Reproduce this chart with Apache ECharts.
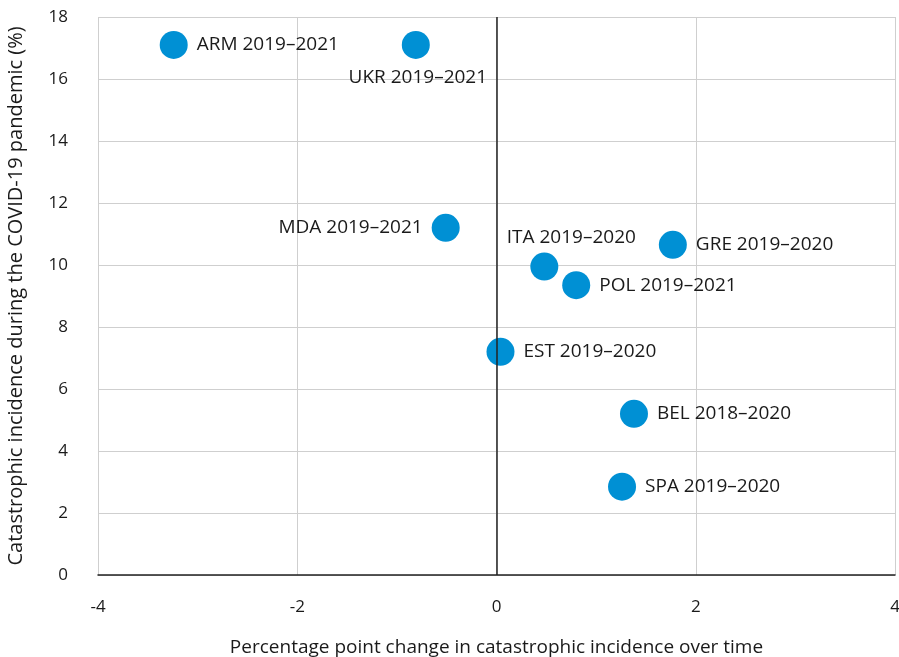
<!DOCTYPE html>
<html>
<head>
<meta charset="utf-8">
<script src="https://cdn.jsdelivr.net/npm/echarts@6/dist/echarts.min.js"></script>
<style>
  html, body { margin: 0; padding: 0; background: #fff; }
  #chart { width: 899px; height: 657px; }
</style>
</head>
<body>
<div id="chart"></div>
<script>
// values
const names = ['ARM 2019–2021', 'UKR 2019–2021', 'MDA 2019–2021', 'ITA 2019–2020', 'GRE 2019–2020',
  'POL 2019–2021', 'EST 2019–2020', 'BEL 2018–2020', 'SPA 2019–2020']
const changes = [-3.24, -0.81, -0.51, 0.48, 1.77, 0.80, 0.04, 1.38, 1.26]
const incidence = [17.1, 17.1, 11.2, 9.95, 10.65, 9.35, 7.2, 5.2, 2.85]
// where each label sits relative to its dot
const labelPos = ['right', 'bottom', 'left', 'top', 'right', 'right', 'right', 'right', 'right']

const font = '"Open Sans", "Noto Sans", sans-serif'
const textColor = '#1a1a1a'

const points = names.map(function (n, i) {
  const item = { name: n, value: [changes[i], incidence[i]], label: { position: labelPos[i] } }
  if (n.startsWith('ITA')) { item.label.offset = [27, 4] }
  if (n.startsWith('UKR')) { item.label.offset = [2, 0] }
  return item
})

const chart = echarts.init(document.getElementById('chart'))
chart.setOption({
  animation: false,
  // keep the plot box fixed; axis names sit outside it like in the reference
  grid: { left: 98, right: 4, top: 17, bottom: 82, containLabel: false, outerBoundsMode: 'none' },
  xAxis: {
    type: 'value', min: -4, max: 4, interval: 2,
    name: 'Percentage point change in catastrophic incidence over time',
    nameLocation: 'middle', nameGap: 63,
    nameTextStyle: { fontFamily: font, fontSize: 19, color: textColor },
    axisLine: { onZero: false, lineStyle: { color: '#222', width: 1.5 } },
    axisTick: { show: false },
    axisLabel: { fontFamily: font, fontSize: 17, color: textColor, margin: 24 },
    splitLine: { show: true, lineStyle: { color: '#cfcfcf', width: 1 } },
  },
  yAxis: {
    type: 'value', min: 0, max: 18, interval: 2,
    name: 'Catastrophic incidence during the COVID-19 pandemic (%)',
    nameLocation: 'middle', nameGap: 72,
    nameTextStyle: { fontFamily: font, fontSize: 20, color: textColor },
    axisLine: { show: false },
    axisTick: { show: false },
    axisLabel: { fontFamily: font, fontSize: 17, color: textColor, margin: 30 },
    splitLine: { show: true, lineStyle: { color: '#cfcfcf', width: 1 } },
  },
  series: [{
    type: 'scatter',
    symbolSize: 28,
    itemStyle: { color: '#0090d4', opacity: 1 },
    label: {
      show: true,
      formatter: '{b}',
      fontFamily: font, fontSize: 19, color: textColor,
      distance: 9,
    },
    data: points,
    markLine: {
      silent: true,
      symbol: 'none',
      label: { show: false },
      lineStyle: { color: '#222', type: 'solid', width: 1.5 },
      data: [{ xAxis: 0 }],
    },
    z: 3,
  }],
})
</script>
</body>
</html>
